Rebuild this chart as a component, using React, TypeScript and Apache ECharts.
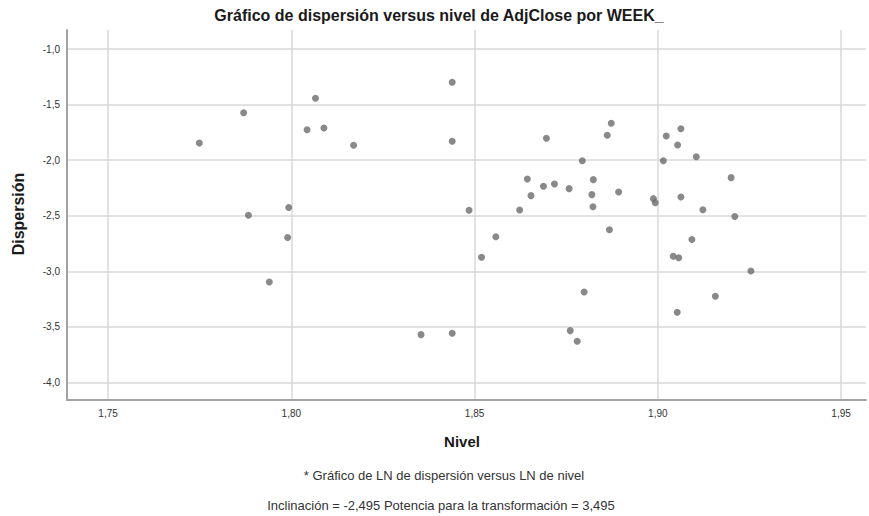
import { useEffect, useRef } from "react";
import * as echarts from "echarts";

// Nivel (LN of level) per week
const nivel = [
  1.7749, 1.787, 1.7883, 1.794, 1.7993, 1.799, 1.8043, 1.8066, 1.8089, 1.817,
  1.8354, 1.8439, 1.8439, 1.8439, 1.8485, 1.8519, 1.8558, 1.8623, 1.8644, 1.8654,
  1.8688, 1.8718, 1.8758, 1.8696, 1.8794, 1.8824, 1.882, 1.8823, 1.8862, 1.8873,
  1.8893, 1.8868, 1.8988, 1.8993, 1.9023, 1.9015, 1.9063, 1.9054, 1.9105, 1.9063,
  1.9123, 1.92, 1.921, 1.9093, 1.9042, 1.9057, 1.9254, 1.8799, 1.9157, 1.9053,
  1.8761, 1.878,
];

// Dispersión (LN of spread) per week
const dispersion = [
  -1.845, -1.573, -2.496, -3.095, -2.425, -2.695, -1.726, -1.443, -1.71, -1.866,
  -3.569, -1.299, -1.83, -3.557, -2.451, -2.873, -2.689, -2.448, -2.169, -2.319,
  -2.235, -2.214, -2.256, -1.803, -2.005, -2.175, -2.31, -2.418, -1.776, -1.668,
  -2.286, -2.625, -2.346, -2.382, -1.782, -2.005, -1.717, -1.863, -1.969, -2.331,
  -2.445, -2.157, -2.506, -2.713, -2.864, -2.877, -2.996, -3.185, -3.224, -3.368,
  -3.533, -3.629,
];

const xTicks = [1.75, 1.8, 1.85, 1.9, 1.95];
const yTicks = [-4, -3.5, -3, -2.5, -2, -1.5, -1];

const FONT = "'Liberation Sans', Arial, sans-serif";

export default function App() {
  const ref = useRef<HTMLDivElement>(null);

  useEffect(() => {
    document.body.style.margin = "0";
    const chart = echarts.init(ref.current!, null, { renderer: "svg" });
    const points = nivel.map((x, i) => [x, dispersion[i]]);

    chart.setOption({
      animation: false,
      backgroundColor: "#ffffff",
      textStyle: { fontFamily: FONT },
      grid: { left: 67, top: 30, width: 799, height: 370, containLabel: false },
      xAxis: {
        type: "value",
        min: 1.7388,
        max: 1.9568,
        axisLine: { show: true, onZero: false, lineStyle: { color: "#a3a3a3", width: 2 } },
        axisTick: { show: false, customValues: xTicks },
        axisLabel: {
          customValues: xTicks,
          formatter: (v: number) => v.toFixed(2).replace(".", ","),
          fontSize: 10,
          color: "#333333",
          margin: 8,
          fontFamily: FONT,
        },
        splitLine: { show: true, lineStyle: { color: "#d9d9d9", width: 1.5 } },
      },
      yAxis: {
        type: "value",
        min: -4.157,
        max: -0.829,
        axisLine: { show: true, onZero: false, lineStyle: { color: "#a3a3a3", width: 2 } },
        axisTick: { show: false, customValues: yTicks },
        axisLabel: {
          customValues: yTicks,
          formatter: (v: number) => v.toFixed(1).replace(".", ","),
          fontSize: 10,
          color: "#333333",
          margin: 7,
          fontFamily: FONT,
        },
        splitLine: { show: true, lineStyle: { color: "#d9d9d9", width: 1.5 } },
      },
      series: [
        {
          type: "scatter",
          data: points,
          symbol: "circle",
          symbolSize: 7,
          itemStyle: { color: "#6b6b6b" },
        },
      ],
      graphic: [
        {
          type: "text",
          x: 439,
          y: 15,
          style: {
            text: "Gráfico de dispersión versus nivel de AdjClose por WEEK_",
            font: `bold 16px ${FONT}`,
            fill: "#1a1a1a",
            align: "center",
            verticalAlign: "middle",
          },
        },
        {
          type: "text",
          x: 18,
          y: 214,
          rotation: Math.PI / 2,
          style: {
            text: "Dispersión",
            font: `bold 16px ${FONT}`,
            fill: "#1a1a1a",
            align: "center",
            verticalAlign: "middle",
          },
        },
        {
          type: "text",
          x: 462,
          y: 441,
          style: {
            text: "Nivel",
            font: `bold 15px ${FONT}`,
            fill: "#1a1a1a",
            align: "center",
            verticalAlign: "middle",
          },
        },
        {
          type: "text",
          x: 444,
          y: 475,
          style: {
            text: "* Gráfico de LN de dispersión versus LN de nivel",
            font: `13px ${FONT}`,
            fill: "#333333",
            align: "center",
            verticalAlign: "middle",
          },
        },
        {
          type: "text",
          x: 441,
          y: 505,
          style: {
            text: "Inclinación = -2,495 Potencia para la transformación = 3,495",
            font: `13px ${FONT}`,
            fill: "#333333",
            align: "center",
            verticalAlign: "middle",
          },
        },
      ],
    });

    return () => chart.dispose();
  }, []);

  return <div ref={ref} style={{ width: 869, height: 516 }} />;
}
